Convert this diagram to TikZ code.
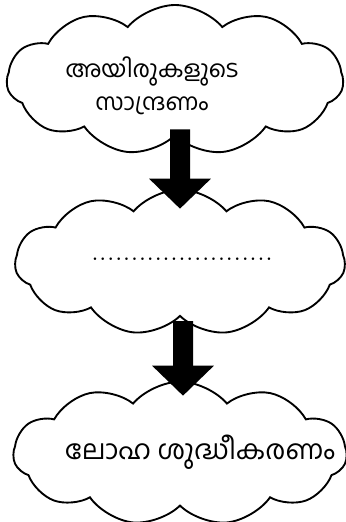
\documentclass[tikz,border=0pt]{standalone}
\usepackage{fontspec}
\newfontfamily\malfont[Script=Malayalam]{Hind Kochi}
\usepackage{tikz}
\usetikzlibrary{shapes.symbols, arrows.meta}

\begin{document}
\begin{tikzpicture}[x=0.03cm, y=-0.03cm,
    cloudbox/.style={cloud, cloud puffs=11, cloud puff arc=100, cloud ignores aspect,
        draw=black, line width=1.6pt, fill=white, inner sep=0pt},
    maltext/.style={font=\malfont\fontsize{20}{28}\selectfont, align=center},
    bigarrow/.style={black, line width=0.6cm, -{Triangle[width=1.8cm, length=0.9cm]}}]
    \useasboundingbox (0,0) rectangle (346,522);
\node[cloudbox, minimum width=10.1cm, minimum height=4.5cm] (ore) at (175,80) {};
\node[cloudbox, minimum width=9.9cm, minimum height=4.37cm] (blank) at (180,262.5) {};
\node[cloudbox, minimum width=10cm, minimum height=4.31cm] (refine) at (180,453.5) {};
\node[maltext] (oretext) at (152,86) {അയിരുകളുടെ\\സാന്ദ്രണം};
\node[font=\fontsize{27}{28}\selectfont] (dots) at (182,259) {.......................};
\node[maltext, font=\malfont\fontsize{23}{28}\selectfont] (refinetext) at (200,452) {ലോഹ ശുദ്ധീകരണം};
    % arrows between the clouds
    \draw[bigarrow] ([xshift=0.15cm, yshift=0.21cm]ore.south) -- ([yshift=-0.6cm]blank.north);
    \draw[bigarrow] ([xshift=0.09cm, yshift=-0.12cm]blank.south) -- ([xshift=0.09cm, yshift=-0.45cm]refine.north);
\end{tikzpicture}
\end{document}
